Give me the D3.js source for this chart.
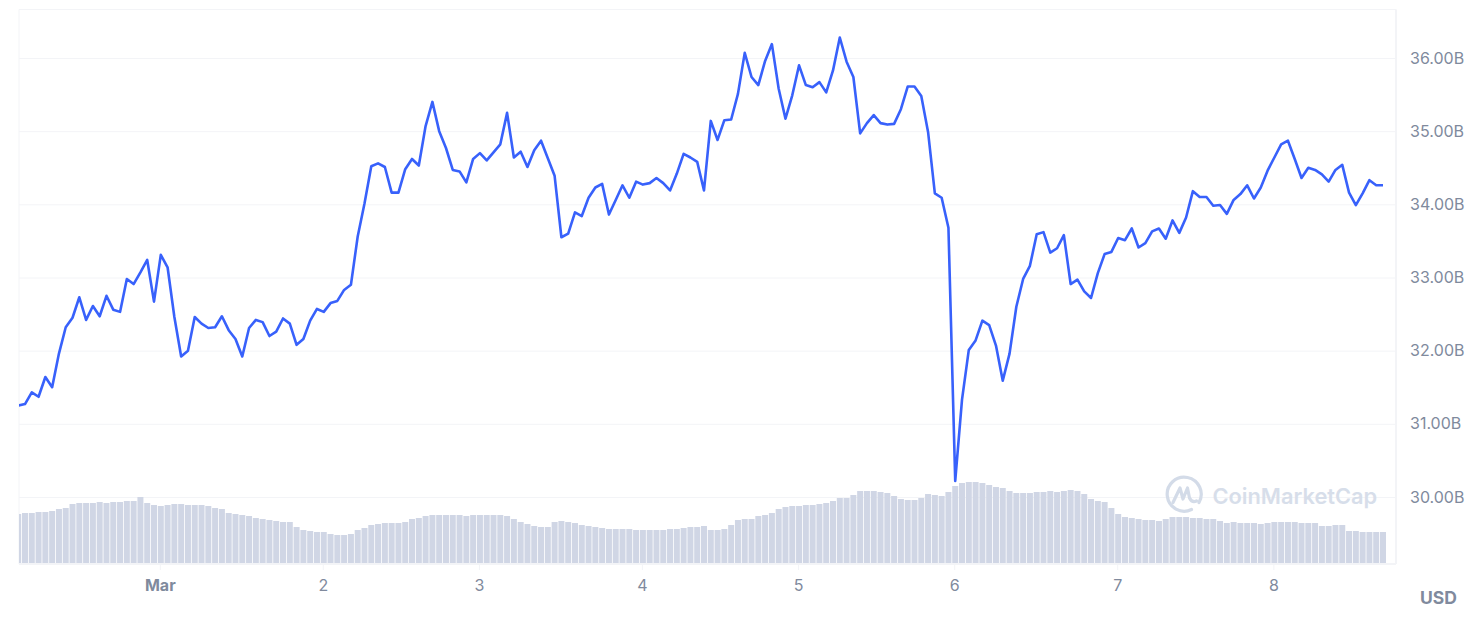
<!DOCTYPE html>
<html>
<head>
<meta charset="utf-8">
<script src="https://cdn.jsdelivr.net/npm/d3@7"></script>
<style>
  html, body { margin: 0; padding: 0; background: #fff; }
  svg { display: block; }
  svg text { font-family: Inter, "Noto Sans", sans-serif; }
  .domain { display: none; }
</style>
</head>
<body>
<div id="chart"></div>
<script>
// market cap, in billions of USD, one reading per step
var marketCap = [
  31.25,31.27,31.43,31.37,31.64,31.50,31.96,32.32,32.45,32.73,32.42,32.61,32.47,32.75,32.56,32.53,32.98,32.91,33.07,33.24,
  32.67,33.31,33.14,32.46,31.92,32.00,32.46,32.37,32.31,32.32,32.47,32.28,32.16,31.92,32.31,32.42,32.39,32.20,32.26,32.44,
  32.37,32.08,32.16,32.41,32.57,32.53,32.65,32.68,32.83,32.90,33.56,34.01,34.52,34.56,34.51,34.16,34.16,34.48,34.62,34.53,
  35.07,35.40,35.00,34.77,34.47,34.45,34.30,34.62,34.70,34.60,34.71,34.82,35.25,34.64,34.72,34.51,34.74,34.87,34.63,34.39,
  33.55,33.60,33.89,33.84,34.09,34.23,34.28,33.86,34.06,34.26,34.09,34.31,34.27,34.29,34.36,34.29,34.19,34.42,34.69,34.64,
  34.58,34.19,35.14,34.88,35.15,35.16,35.51,36.07,35.74,35.63,35.96,36.19,35.58,35.17,35.49,35.90,35.63,35.60,35.67,35.53,
  35.83,36.28,35.95,35.74,34.97,35.11,35.22,35.11,35.09,35.10,35.30,35.61,35.61,35.48,34.99,34.15,34.09,33.68,30.22,31.33,
  32.01,32.14,32.41,32.35,32.07,31.59,31.96,32.60,32.98,33.16,33.59,33.62,33.34,33.40,33.58,32.91,32.97,32.81,32.72,33.06,
  33.32,33.35,33.54,33.51,33.67,33.41,33.47,33.63,33.67,33.53,33.78,33.61,33.82,34.18,34.10,34.10,33.98,33.99,33.87,34.06,
  34.14,34.26,34.08,34.23,34.46,34.64,34.82,34.87,34.62,34.36,34.50,34.47,34.41,34.31,34.47,34.54,34.16,33.99,34.15,34.33,
  34.26,34.26
];

// volume, relative units
var volume = [
  49,50,50,51,51,52,54,55,59,60,60,60,61,60,61,61,62,62,66,60,
  58,57,58,59,59,58,58,58,57,55,54,50,49,48,47,45,44,43,42,41,
  41,36,33,32,31,31,29,28,28,29,33,35,38,39,40,40,40,41,44,45,
  47,48,48,48,48,48,47,48,48,48,48,48,47,44,41,39,37,36,36,41,
  42,41,40,38,37,36,35,34,34,34,34,33,33,33,33,33,34,34,35,36,
  36,37,33,33,34,38,43,44,44,47,48,50,54,56,57,57,58,58,59,60,
  62,65,65,68,72,72,72,71,70,67,64,63,63,65,69,68,67,71,77,80,
  81,81,80,78,76,75,72,70,70,70,71,71,72,71,72,73,72,69,64,62,
  61,55,49,46,45,44,43,43,42,44,46,46,46,45,45,44,44,42,40,41,
  40,40,40,39,40,41,41,41,41,40,40,40,37,37,38,38,32,32,31,31,
  31,31
];

var dayLabels = ["Mar", "2", "3", "4", "5", "6", "7", "8"];
var dayIndex = [21, 45, 68, 92, 115, 138, 162, 185];
var capTicks = [30, 31, 32, 33, 34, 35, 36];

var width = 1482, height = 624;
var left = 19, right = 1396, top_ = 9.5, bottom = 564;

var svg = d3.select("#chart").append("svg")
    .attr("width", width)
    .attr("height", height);

var x = d3.scaleLinear().domain([0, marketCap.length - 1]).range([18.2, 1383]);
var y = d3.scaleLinear().domain([30, 36]).range([497, 58]);
var yVolume = d3.scaleLinear().domain([0, 100]).range([563, 463]);

svg.append("defs").append("clipPath").attr("id", "plot")
    .append("rect")
    .attr("x", left).attr("y", top_)
    .attr("width", right - left).attr("height", bottom - top_);

// frame
var frameColor = "#f3f4f7";
svg.append("path")
    .attr("d", "M" + left + " " + bottom + "V" + top_ + "H" + right + "V" + bottom)
    .attr("fill", "none")
    .attr("stroke", frameColor)
    .attr("stroke-width", 1);
svg.append("line")
    .attr("x1", right).attr("x2", right)
    .attr("y1", top_).attr("y2", bottom)
    .attr("stroke", frameColor)
    .attr("stroke-width", 2);

// gridlines + value labels
var yAxis = d3.axisRight(y)
    .tickValues(capTicks)
    .tickSize(right - left)
    .tickPadding(14)
    .tickFormat(function(d) { return d3.format(".2f")(d) + "B"; });

var yGroup = svg.append("g")
    .attr("transform", "translate(" + left + ",0)")
    .call(yAxis);
yGroup.selectAll("line").attr("stroke", frameColor);
yGroup.selectAll("text")
    .attr("fill", "#808a9d")
    .style("font-size", "16px");

// watermark sits under the marks
var mark = svg.append("g").attr("transform", "translate(1183.5,495)");
mark.append("path")
    .attr("d", "M15.5 7.5 A17 17 0 1 0 8 14.5")
    .attr("fill", "none")
    .attr("stroke", "#d3dbe8")
    .attr("stroke-width", 3.2)
    .attr("stroke-linecap", "round");
mark.append("path")
    .attr("d", "M-10.5 7.5 L-3.5 -7 L-0.5 4 L4 -7 L6 3 Q8.5 8 13 6")
    .attr("fill", "none")
    .attr("stroke", "#d3dbe8")
    .attr("stroke-width", 3.2)
    .attr("stroke-linecap", "round")
    .attr("stroke-linejoin", "round");
svg.append("text")
    .attr("x", 1212.5)
    .attr("y", 504)
    .attr("fill", "#d7deea")
    .style("font-size", "21.8px")
    .style("font-weight", 600)
    .text("CoinMarketCap");

// volume bars
svg.append("g")
    .attr("clip-path", "url(#plot)")
    .selectAll("rect")
    .data(volume)
    .enter()
    .append("rect")
    .attr("x", function(d, i) { return x(i) - 3; })
    .attr("y", function(d) { return yVolume(d); })
    .attr("width", 6)
    .attr("height", function(d) { return yVolume(0) - yVolume(d); })
    .attr("fill", "#d0d6e5");

// market cap line
var line = d3.line()
    .x(function(d, i) { return x(i); })
    .y(function(d) { return y(d); });

svg.append("path")
    .datum(marketCap)
    .attr("clip-path", "url(#plot)")
    .attr("d", line)
    .attr("fill", "none")
    .attr("stroke", "#3861fb")
    .attr("stroke-width", 2.6)
    .attr("stroke-linejoin", "round");

// bottom axis
svg.append("line")
    .attr("x1", left).attr("x2", right)
    .attr("y1", bottom).attr("y2", bottom)
    .attr("stroke", frameColor)
    .attr("stroke-width", 2);

var xAxis = d3.axisBottom(x)
    .tickValues(dayIndex)
    .tickSize(6)
    .tickPadding(10)
    .offset(0)
    .tickFormat(function(d, i) { return dayLabels[i]; });

var xGroup = svg.append("g")
    .attr("transform", "translate(-0.5," + bottom + ")")
    .call(xAxis);
xGroup.selectAll("line").attr("stroke", frameColor);
xGroup.selectAll("text")
    .attr("fill", "#808a9d")
    .style("font-size", "16px")
    .style("font-weight", function(d, i) { return dayLabels[i] === "Mar" ? 700 : 400; });

svg.append("text")
    .attr("x", 1438.5)
    .attr("y", 603.5)
    .attr("text-anchor", "middle")
    .attr("fill", "#808a9d")
    .style("font-size", "17.5px")
    .style("font-weight", 700)
    .text("USD");
</script>
</body>
</html>
